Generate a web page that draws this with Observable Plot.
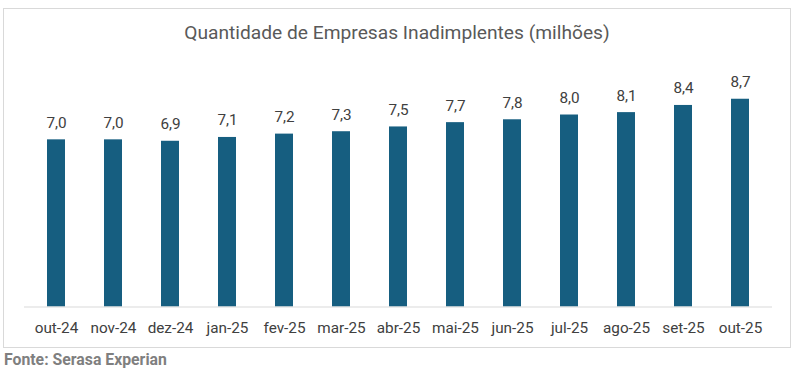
<!DOCTYPE html>
<html>
<head>
<meta charset="utf-8">
<script src="https://cdn.jsdelivr.net/npm/d3@7"></script>
<script src="https://cdn.jsdelivr.net/npm/@observablehq/plot@0.6"></script>
<style>
  html, body { margin: 0; padding: 0; background: #fff; }
  body { width: 797px; height: 373px; position: relative; overflow: hidden; font-family: Roboto, "Noto Sans", sans-serif; }
  #frame { position: absolute; left: 3px; top: 8px; width: 788px; height: 340px; box-sizing: border-box; border: 1px solid #d9d9d9; }
  #title { position: absolute; left: 3px; width: 788px; top: 20px; text-align: center; font-size: 19.2px; color: #595959; line-height: 26px; }
  #chart { position: absolute; left: 0; top: 0; }
  #caption { position: absolute; left: 4px; top: 351px; font-size: 15.8px; font-weight: bold; color: #7f7f7f; line-height: 18px; }
</style>
</head>
<body>
<div id="frame"></div>
<div id="chart"></div>
<div id="title">Quantidade de Empresas Inadimplentes (milhões)</div>
<div id="caption">Fonte: Serasa Experian</div>
<script>
// months (categories)
const months = ["out-24","nov-24","dez-24","jan-25","fev-25","mar-25","abr-25","mai-25","jun-25","jul-25","ago-25","set-25","out-25"];
// values in millions (unrounded)
const values = [7.0, 7.0, 6.94, 7.1, 7.24, 7.34, 7.54, 7.72, 7.84, 8.04, 8.14, 8.44, 8.7];
// data labels as printed on the chart
const valueLabels = ["7,0","7,0","6,9","7,1","7,2","7,3","7,5","7,7","7,8","8,0","8,1","8,4","8,7"];

const data = months.map((m, i) => ({month: m, value: values[i], label: valueLabels[i]}));

const plot = Plot.plot({
  width: 797,
  height: 350,
  marginLeft: 24,
  marginRight: 25,
  marginTop: 67.7,
  marginBottom: 43.5,
  style: {background: "transparent", fontFamily: "Roboto, sans-serif", overflow: "visible"},
  x: {domain: months, paddingInner: 0.687, paddingOuter: 0.3435, label: null},
  y: {domain: [0, 10], axis: null},
  marks: [
    Plot.barY(data, {x: "month", y: "value", fill: "#165e80"}),
    Plot.ruleY([0], {stroke: "#d9d9d9", strokeWidth: 1.2}),
    Plot.text(data, {x: "month", y: "value", text: "label", lineAnchor: "bottom", dy: -12, fontSize: 15.3, fill: "#404040"}),
    Plot.axisX({tickSize: 0, tickPadding: 15, fontSize: 15.3, color: "#404040", label: null})
  ]
});
document.getElementById("chart").appendChild(plot);
</script>
</body>
</html>
